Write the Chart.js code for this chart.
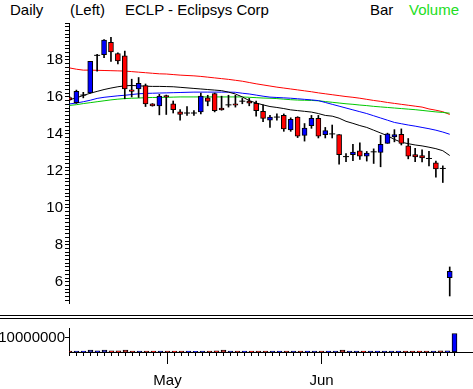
<!DOCTYPE html>
<html><head><meta charset="utf-8">
<script src="https://cdn.jsdelivr.net/npm/chart.js@4.4.1/dist/chart.umd.min.js"></script>
<style>
html,body{margin:0;padding:0;background:#fff;width:473px;height:389px;overflow:hidden;}
#wrap{position:relative;width:473px;height:389px;background:#fff;}
.hd{position:absolute;top:0;font:15px "Liberation Sans",Arial,sans-serif;line-height:20px;color:#000;white-space:nowrap;}
#c1{position:absolute;left:0;top:0;width:473px;height:314px;}
#c2{position:absolute;left:0;top:319px;width:473px;height:70px;}
.sep{position:absolute;left:0;width:473px;height:1px;background:#000;}
</style></head><body>
<div id="wrap">
<div class="hd" style="left:10px">Daily</div>
<div class="hd" style="left:70px">(Left)</div>
<div class="hd" style="left:125px">ECLP - Eclipsys Corp</div>
<div class="hd" style="left:370px">Bar</div>
<div class="hd" style="left:409px;color:#22DD22">Volume</div>
<canvas id="c1" width="473" height="314"></canvas>
<div class="sep" style="top:315px"></div>
<div class="sep" style="top:318px"></div>
<canvas id="c2" width="473" height="70"></canvas>
</div>
<script>
// ---- data (2002 daily bars) ----
const dates = [
 "04-11","04-12","04-15","04-16","04-17","04-18","04-19","04-22","04-23","04-24","04-25","04-26","04-29","04-30",
 "05-01","05-02","05-03","05-06","05-07","05-08","05-09","05-10","05-13","05-14","05-15","05-16","05-17","05-20",
 "05-21","05-22","05-23","05-24","05-28","05-29","05-30","05-31",
 "06-03","06-04","06-05","06-06","06-07","06-10","06-11","06-12","06-13","06-14","06-17","06-18","06-19","06-20",
 "06-21","06-24","06-25","06-26","06-27","06-28"];
const monthNames = {"05":"May","06":"Jun"};

const open  = [15.97,15.69,16.10,16.22,18.25,18.28,18.96,18.35,18.23,16.38,16.44,16.61,15.62,15.52,16.07,15.62,15.20,15.13,15.13,15.19,
               15.95,16.18,15.39,15.57,15.63,15.77,15.78,15.65,15.22,14.74,14.91,15.01,14.22,14.91,13.92,14.44,14.84,13.96,14.00,13.96,
               12.77,12.88,13.09,12.79,13.03,13.00,13.49,13.83,13.97,13.36,12.88,12.83,12.67,12.44,12.13,6.22];
const high  = [16.02,16.37,16.25,17.92,18.30,19.10,19.22,18.38,18.48,16.96,17.05,16.70,15.64,16.14,16.10,15.78,15.31,15.48,15.26,16.21,
               16.09,16.21,16.04,16.09,16.09,15.92,15.92,15.78,15.57,15.00,15.08,15.08,14.87,14.93,14.56,15.00,15.00,14.35,14.48,13.96,
               12.93,13.43,13.52,13.05,13.19,13.92,14.04,14.23,14.27,13.75,13.22,13.14,13.05,12.53,12.27,6.80];
const low   = [15.80,15.65,15.95,16.20,17.40,18.12,17.92,17.78,15.90,16.00,15.97,15.48,15.50,15.03,15.05,15.13,14.74,15.00,15.00,15.08,
               15.52,15.19,15.28,15.45,15.45,15.63,15.52,14.96,14.66,14.35,14.74,14.14,14.14,13.80,13.61,14.30,13.78,13.78,13.78,12.36,
               12.50,12.55,12.62,12.53,12.40,12.22,13.49,13.57,13.40,12.65,12.50,12.48,12.27,11.66,11.37,5.23];
const close = [15.84,16.30,16.10,17.92,18.25,19.08,18.44,17.95,16.44,16.30,16.73,15.62,15.52,16.04,16.00,15.31,15.05,15.13,15.13,16.04,
               15.76,15.26,15.30,15.57,15.55,15.77,15.66,15.26,14.84,14.91,14.91,14.27,14.79,13.88,14.32,14.84,13.87,14.18,14.00,12.88,
               12.77,13.02,12.79,12.96,13.03,13.43,14.00,13.96,13.49,12.79,12.76,12.70,12.67,12.10,12.13,6.57];
const volume = [700000,650000,600000,1300000,800000,1300000,900000,800000,1300000,700000,650000,700000,600000,650000,700000,600000,650000,600000,550000,700000,
                650000,800000,1300000,700000,650000,600000,600000,650000,700000,650000,600000,700000,650000,700000,600000,650000,700000,600000,650000,1300000,
                700000,650000,600000,650000,600000,700000,650000,600000,700000,650000,600000,650000,700000,750000,800000,13000000];

const maBlack = [15.85,15.95,16.08,16.20,16.30,16.40,16.48,16.55,16.60,16.62,16.60,16.58,16.57,16.57,16.56,16.55,16.52,16.49,16.46,16.43,
                 16.40,16.37,16.34,16.26,16.16,16.00,15.80,15.67,15.57,15.48,15.43,15.37,15.30,15.26,15.22,15.18,15.10,15.00,14.96,14.85,
                 14.68,14.57,14.45,14.35,14.20,14.05,13.90,13.70,13.55,13.47,13.40,13.35,13.28,13.20,13.09,12.83];
const maBlue  = [15.62,15.67,15.74,15.82,15.92,15.98,16.02,16.06,16.09,16.13,16.17,16.19,16.20,16.21,16.22,16.23,16.24,16.25,16.26,16.26,
                 16.26,16.26,16.26,16.26,16.25,16.20,16.16,16.10,16.04,15.99,15.97,15.95,15.93,15.90,15.87,15.84,15.80,15.70,15.60,15.50,
                 15.40,15.30,15.20,15.10,14.98,14.86,14.74,14.62,14.55,14.48,14.42,14.35,14.28,14.20,14.10,13.98];
const maGreen = [15.54,15.58,15.64,15.69,15.74,15.79,15.84,15.88,15.91,15.93,15.94,15.96,15.97,15.97,15.98,15.99,16.00,16.00,16.00,16.00,
                 16.00,16.00,16.00,16.00,16.00,16.00,15.98,15.96,15.94,15.93,15.91,15.88,15.85,15.83,15.82,15.81,15.79,15.75,15.71,15.67,
                 15.63,15.60,15.56,15.53,15.49,15.46,15.43,15.40,15.37,15.34,15.31,15.27,15.23,15.19,15.16,15.12];
const maRed   = [17.57,17.50,17.45,17.45,17.44,17.43,17.42,17.41,17.40,17.37,17.34,17.31,17.28,17.25,17.24,17.21,17.18,17.16,17.14,17.11,
                 17.07,17.03,16.99,16.95,16.90,16.85,16.78,16.71,16.65,16.59,16.53,16.48,16.43,16.38,16.33,16.28,16.22,16.17,16.12,16.07,
                 16.02,15.98,15.93,15.87,15.81,15.76,15.70,15.65,15.60,15.55,15.50,15.45,15.35,15.28,15.20,15.05];

const yLabels = [6,8,10,12,14,16,18];

// ---- build ----
const FONT = {family:'"Liberation Sans", Arial, sans-serif', size:15};
const UP = '#0000FF', DOWN = '#FF0000';
const colors = close.map((c,i)=> c>open[i] ? UP : (c<open[i] ? DOWN : '#000000'));
const monthLabel = dates.map((d,i)=>{
  const m = d.slice(0,2);
  return (i>0 && m!==dates[i-1].slice(0,2)) ? (monthNames[m]||'') : '';
});
const X_MIN = -0.07, X_MAX = 57.644;
const bodies = dates.map((d,i)=>({x:i, y:[open[i], close[i]]}));
const wicks  = dates.map((d,i)=>({x:i, y:[low[i], high[i]]}));
const doji   = dates.map((d,i)=>({x:i, y:close[i]})).filter((p,i)=>open[i]===close[i]);
const line = arr => arr.map((v,i)=>({x:i, y:v}));
const maDs = (arr,col)=>({type:'line', data:line(arr), borderColor:col, borderWidth:1, pointRadius:0, tension:0, fill:false, order:5});

new Chart(document.getElementById('c1'), {
  data:{datasets:[
    {type:'scatter', data:doji, pointStyle:'line', pointRadius:3, borderColor:'#000', borderWidth:1, order:0},
    {type:'bar', data:bodies, backgroundColor:colors, borderColor:'#000', borderWidth:1, borderSkipped:false, barThickness:5, grouped:false, order:1},
    {type:'bar', data:wicks, backgroundColor:'#000', borderWidth:0, barThickness:1, grouped:false, order:2},
    maDs(maBlack,'#000000'),
    maDs(maBlue,'#0000FF'),
    maDs(maGreen,'#00C800'),
    maDs(maRed,'#FF0000')
  ]},
  options:{
    responsive:false, animation:false, events:[],
    layout:{padding:{top:23,bottom:0,left:0,right:0}},
    plugins:{legend:{display:false}, tooltip:{enabled:false}},
    scales:{
      x:{type:'linear', min:X_MIN, max:X_MAX, offset:false, display:false},
      y:{type:'linear', position:'left', min:4.85, max:20,
         afterFit(s){ s.width = 69; },
         grid:{drawOnChartArea:false, color:'#000', tickLength:4},
         border:{color:'#000'},
         ticks:{stepSize:0.2, autoSkip:false, maxTicksLimit:200, includeBounds:false, color:'#000', font:FONT, padding:2,
           callback(v){ const r=Math.round(v); return (Math.abs(v-r)<1e-6 && yLabels.includes(r)) ? String(r) : ''; }}
      }
    }
  }
});

const monthTicks = {
  id:'monthTicks',
  afterDraw(chart){
    const ctx = chart.ctx, xs = chart.scales.x, b = chart.chartArea.bottom;
    ctx.save(); ctx.strokeStyle='#000'; ctx.lineWidth=1;
    monthLabel.forEach((m,i)=>{
      if(!m) return;
      const px = Math.round(xs.getPixelForValue(i)) + 0.5;
      ctx.beginPath(); ctx.moveTo(px, b); ctx.lineTo(px, b+12); ctx.stroke();
    });
    ctx.restore();
  }
};

new Chart(document.getElementById('c2'), {
  data:{datasets:[
    {type:'bar', data:volume.map((v,i)=>({x:i, y:v})), backgroundColor:colors.map(c=>c==='#000000'?UP:c), borderColor:'#000', borderWidth:1, borderSkipped:false, barThickness:5}
  ]},
  options:{
    responsive:false, animation:false, events:[],
    layout:{padding:{top:1,bottom:0,left:0,right:0}},
    plugins:{legend:{display:false}, tooltip:{enabled:false}},
    scales:{
      x:{type:'linear', min:X_MIN, max:X_MAX, offset:false, position:'bottom',
         afterFit(s){ s.height = 37; },
         afterBuildTicks(s){ s.ticks = dates.map((d,i)=>({value:i})); },
         grid:{drawOnChartArea:false, offset:false, color:'#000', tickLength:4},
         border:{color:'#000'},
         ticks:{autoSkip:false, maxRotation:0, minRotation:0, color:'#000', font:FONT, padding:16,
           callback(v){ return monthLabel[v] || ''; }}
      },
      y:{type:'linear', position:'left', min:0, max:16840000,
         afterFit(s){ s.width = 69; },
         afterBuildTicks(s){ s.ticks = [{value:10000000}]; },
         grid:{drawOnChartArea:false, color:'#000', tickLength:4},
         border:{color:'#000'},
         ticks:{color:'#000', font:FONT, padding:0, callback(v){ return String(v); }}
      }
    }
  },
  plugins:[monthTicks]
});
</script>
</body></html>
